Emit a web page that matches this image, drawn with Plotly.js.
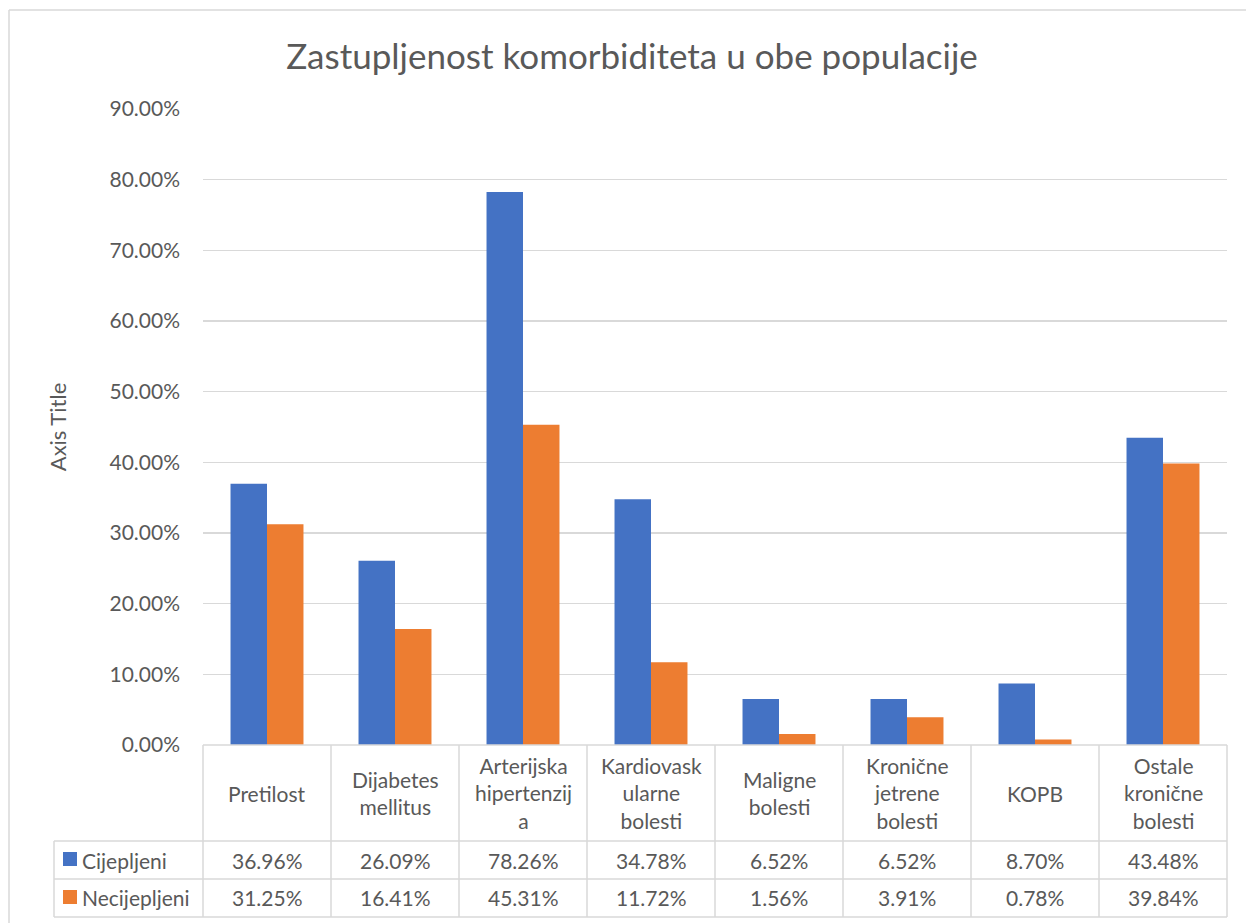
<!DOCTYPE html>
<html>
<head>
<meta charset="utf-8">
<script src="https://cdn.plot.ly/plotly-3.0.1.min.js"></script>
<style>html,body{margin:0;padding:0;background:#fff;}#chart{width:1246px;height:923px;}</style>
</head>
<body>
<div id="chart"></div>
<script>
const categories = ["Pretilost", "Dijabetes mellitus", "Arterijska hipertenzija", "Kardiovaskularne bolesti", "Maligne bolesti", "Kronične jetrene bolesti", "KOPB", "Ostale kronične bolesti"];
const categoryLabels = ["Pretilost", "Dijabetes<br>mellitus", "Arterijska<br>hipertenzij<br>a", "Kardiovask<br>ularne<br>bolesti", "Maligne<br>bolesti", "Kronične<br>jetrene<br>bolesti", "KOPB", "Ostale<br>kronične<br>bolesti"];
const seriesNames = ["Cijepljeni", "Necijepljeni"];
const cijepljeni = [36.96, 26.09, 78.26, 34.78, 6.52, 6.52, 8.70, 43.48];
const necijepljeni = [31.25, 16.41, 45.31, 11.72, 1.56, 3.91, 0.78, 39.84];
const seriesValues = [cijepljeni, necijepljeni];
const colors = ["#4472C4", "#ED7D31"];

const W = 1246, H = 923;
const L = 203, R = 1227, T = 109, B = 745;
const pw = R - L, ph = B - T;
const px = x => (x - L) / pw;
const py = y => (B - y) / ph;

const idx = categories.map((_, i) => i);
const traces = seriesValues.map((vals, s) => ({
  type: 'bar', x: idx, y: vals, name: seriesNames[s],
  marker: {color: colors[s], line: {width: 0}},
  hoverinfo: 'none', showlegend: false
}));

const gridColor = '#d9d9d9';
const textColor = '#595959';
const fontFam = 'Lato, "Open Sans", sans-serif';
const fs = 21;

const shapes = [];
const line = (x0, y0, x1, y1) => shapes.push({type: 'line', xref: 'paper', yref: 'paper',
  x0: px(x0), y0: py(y0), x1: px(x1), y1: py(y1), line: {color: gridColor, width: 1.5}, layer: 'above'});
// outer chart border (top and left visible)
line(9, 10, W + 5, 10);
line(9, 10, 9, H + 5);
// table
line(L, 745, R, 745);
line(54, 841, R, 841);
line(54, 879, R, 879);
line(54, 917, R, 917);
line(54, 841, 54, 917);
for (let i = 0; i <= categories.length; i++) {
  const x = L + pw * i / categories.length;
  line(x, 745, x, 917);
}
// legend keys
const keyY = [[852, 866], [890, 904]];
keyY.forEach((k, s) => shapes.push({type: 'rect', xref: 'paper', yref: 'paper',
  x0: px(63), x1: px(77), y0: py(k[1]), y1: py(k[0]), fillcolor: colors[s], line: {width: 0}}));

const annotations = [];
categoryLabels.forEach((lab, i) => annotations.push({
  x: i, xref: 'x', y: py(793), yref: 'paper', text: lab, showarrow: false,
  xanchor: 'center', yanchor: 'middle', align: 'center',
  font: {family: fontFam, size: fs, color: textColor}
}));
const rowCenters = [860, 898];
seriesValues.forEach((vals, s) => {
  annotations.push({x: px(80), xref: 'paper', y: py(rowCenters[s]), yref: 'paper', text: seriesNames[s],
    showarrow: false, xanchor: 'left', yanchor: 'middle', font: {family: fontFam, size: fs, color: textColor}});
  vals.forEach((v, i) => annotations.push({
    x: i, xref: 'x', y: py(rowCenters[s]), yref: 'paper', text: v.toFixed(2) + '%', showarrow: false,
    xanchor: 'center', yanchor: 'middle', font: {family: fontFam, size: fs, color: textColor}
  }));
});

const layout = {
  width: W, height: H,
  margin: {l: L, r: W - R, t: T, b: H - B, pad: 0},
  paper_bgcolor: '#ffffff', plot_bgcolor: '#ffffff',
  title: {text: 'Zastupljenost komorbiditeta u obe populacije', x: 632 / W, xanchor: 'center',
    y: 1 - 57 / H, yanchor: 'middle', font: {family: fontFam, size: 35, color: textColor}},
  barmode: 'group', bargap: 0.43, bargroupgap: 0,
  xaxis: {range: [-0.5, categories.length - 0.5], showticklabels: false, showgrid: false,
    zeroline: false, showline: false, ticks: '', fixedrange: true},
  yaxis: {range: [0, 90], dtick: 10, tickformat: '.2f', ticksuffix: '%', showgrid: true,
    gridcolor: gridColor, gridwidth: 1.5, zeroline: false, showline: false, ticks: '',
    ticklabelstandoff: 22,
    tickfont: {family: fontFam, size: fs, color: textColor},
    title: {text: 'Axis Title', standoff: 36, font: {family: fontFam, size: 22, color: textColor}}},
  shapes: shapes, annotations: annotations, showlegend: false
};

Plotly.newPlot('chart', traces, layout, {displayModeBar: false, staticPlot: true});
</script>
</body>
</html>
